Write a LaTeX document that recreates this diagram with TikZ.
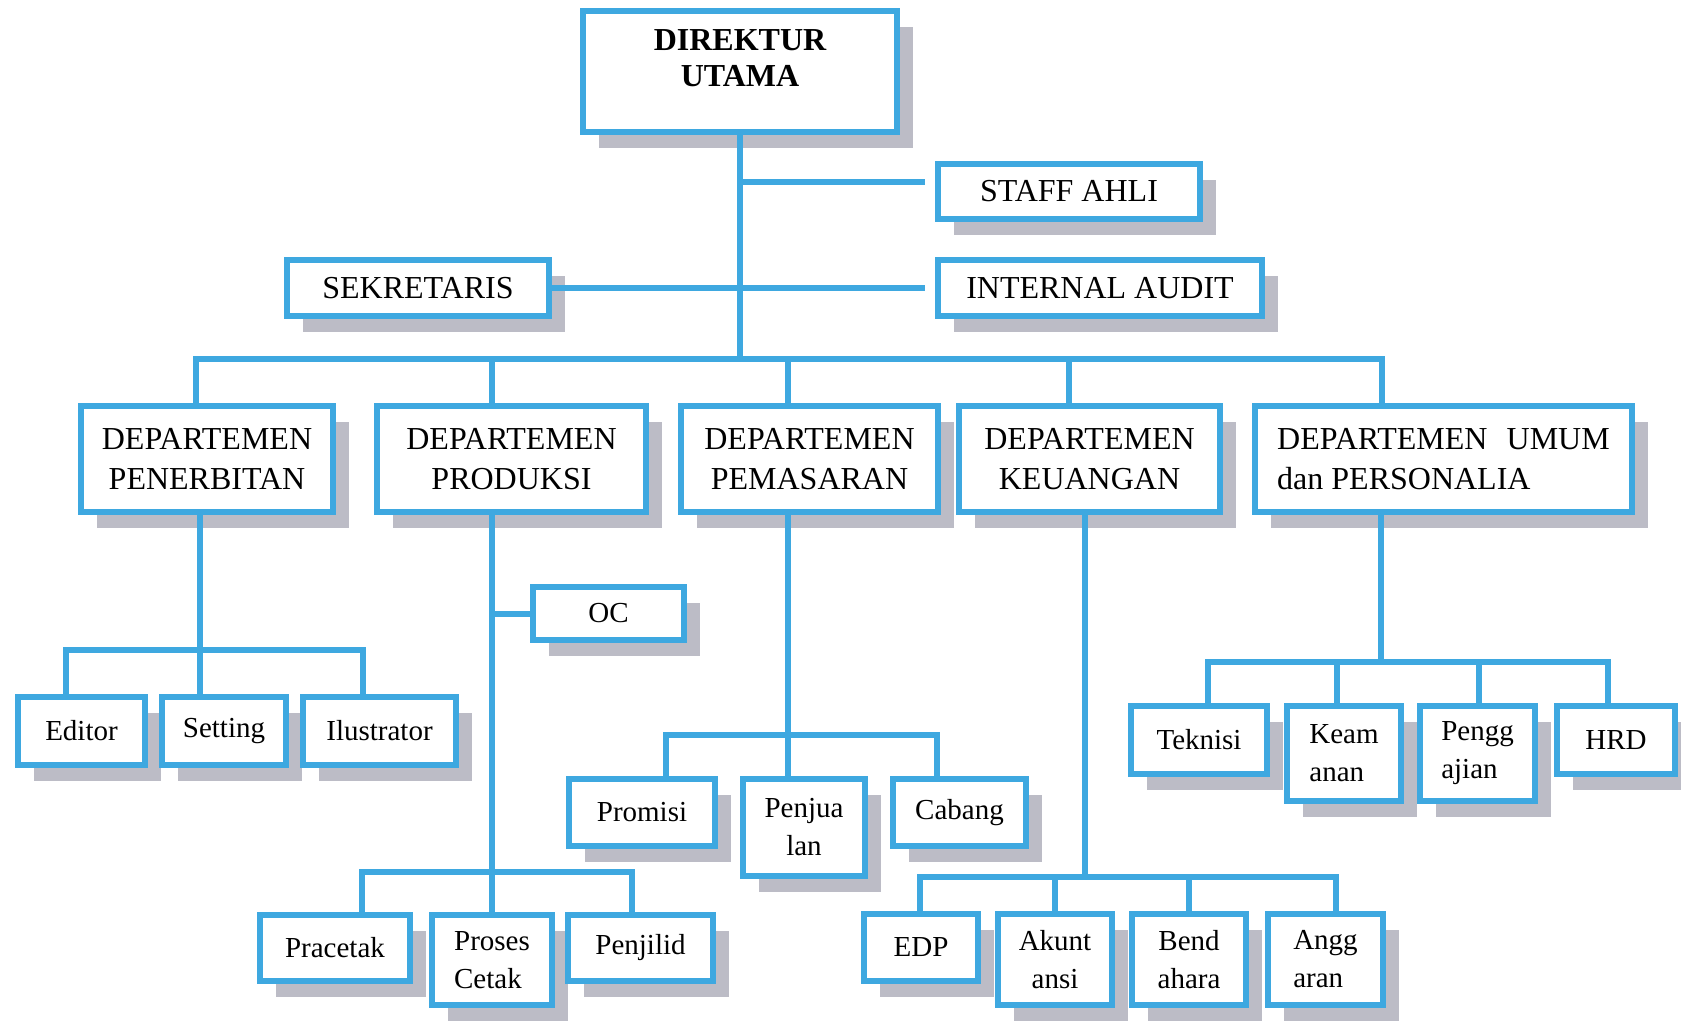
\documentclass[tikz,border=0pt]{standalone}
\usepackage{fontspec}
\setmainfont{Liberation Serif}
\usetikzlibrary{shadows}

\definecolor{orgblue}{RGB}{62,168,224}
\definecolor{orggray}{RGB}{188,188,198}

\tikzset{
  box/.style={draw=orgblue, line width=3pt, fill=white, inner sep=0pt, align=center,
    drop shadow={shadow xshift=8pt, shadow yshift=-8pt, fill=orggray, opacity=1}},
  dept/.style={box, font=\fontsize{16}{20}\selectfont},
  unit/.style={box, font=\fontsize{14.5}{19}\selectfont},
  link/.style={draw=orgblue, line width=3pt},
}

\begin{document}
\begin{tikzpicture}[x=0.5pt,y=-0.5pt]

% canvas in pixels of the scanned chart (1681 x 1023), y grows downward
\useasboundingbox (0,0) rectangle (1681,1023);

% --- Top level ---
\node[box, font=\fontsize{16}{18}\selectfont\bfseries, minimum width=157pt, minimum height=60.5pt]
  (direktur) at (740,71.5)
  {\raisebox{5pt}[\height][\depth]{\begin{tabular}{@{}c@{}}DIREKTUR\\UTAMA\end{tabular}}};
\node[dept, minimum width=131pt, minimum height=27.5pt] (staff) at (1069,191.5) {STAFF AHLI};
\node[dept, minimum width=131pt, minimum height=28pt] (sekretaris) at (418,288) {SEKRETARIS};
\node[dept, minimum width=162pt, minimum height=28pt] (audit) at (1100,288) {INTERNAL AUDIT};

% --- Departments ---
\node[dept, minimum width=126pt, minimum height=53pt] (penerbitan) at (207,459) {DEPARTEMEN\\PENERBITAN};
\node[dept, minimum width=134.5pt, minimum height=53pt] (produksi) at (511.5,459) {DEPARTEMEN\\PRODUKSI};
\node[dept, minimum width=128.5pt, minimum height=53pt] (pemasaran) at (809.5,459) {DEPARTEMEN\\PEMASARAN};
\node[dept, minimum width=130.5pt, minimum height=53pt] (keuangan) at (1089.5,459) {DEPARTEMEN\\KEUANGAN};
\node[dept, align=left, minimum width=188.5pt, minimum height=53pt] (umum) at (1443.5,459)
  {DEPARTEMEN\hspace{0.6em}UMUM\\dan PERSONALIA};

% --- Units: Penerbitan ---
\node[unit, minimum width=63.5pt, minimum height=34pt] (editor) at (81.5,731) {Editor};
\node[unit, minimum width=62pt, minimum height=34pt] (setting) at (224,731) {Setting};
\node[unit, minimum width=76.5pt, minimum height=34pt] (ilustrator) at (379.5,731) {Ilustrator};

% --- Units: Produksi ---
\node[unit, minimum width=75.5pt, minimum height=26.5pt] (qc) at (608.5,613.5) {OC};
\node[unit, minimum width=75pt, minimum height=33pt] (pracetak) at (335,948) {Pracetak};
\node[unit, align=left, minimum width=60pt, minimum height=45pt] (proses) at (492,960) {Proses\\Cetak};
\node[unit, minimum width=72.5pt, minimum height=33pt] (penjilid) at (640.5,948) {Penjilid};

% --- Units: Pemasaran ---
\node[unit, minimum width=73pt, minimum height=33.5pt] (promisi) at (642,812.5) {Promisi};
\node[unit, minimum width=61pt, minimum height=48.5pt] (penjualan) at (804,827.5) {Penjua\\lan};
\node[unit, minimum width=66.5pt, minimum height=33.5pt] (cabang) at (959.5,812.5) {Cabang};

% --- Units: Keuangan ---
\node[unit, minimum width=57pt, minimum height=33.5pt] (edp) at (921,947.5) {EDP};
\node[unit, minimum width=57pt, minimum height=45.5pt] (akuntansi) at (1055,959.5) {Akunt\\ansi};
\node[unit, minimum width=57pt, minimum height=45.5pt] (bendahara) at (1189,959.5) {Bend\\ahara};
\node[unit, align=left, minimum width=57.5pt, minimum height=45.5pt] (anggaran) at (1325.5,959.5) {Angg\\aran};

% --- Units: Umum dan Personalia ---
\node[unit, minimum width=68pt, minimum height=34pt] (teknisi) at (1199,740) {Teknisi};
\node[unit, align=left, minimum width=57pt, minimum height=47.5pt] (keamanan) at (1344,753.5) {Keam\\anan};
\node[unit, align=left, minimum width=57.5pt, minimum height=47.5pt] (penggajian) at (1477.5,753.5) {Pengg\\ajian};
\node[unit, minimum width=59pt, minimum height=34pt] (hrd) at (1616,740) {HRD};

% --- Connectors: top level ---
\coordinate (staffjoint) at (740,182);
\coordinate (topbus) at (740,359);
\draw[link] (direktur.south) -- (topbus);
\draw[link, shorten >=5pt] (staffjoint) -- (staffjoint -| staff.west);
\draw[link, shorten >=5pt] (sekretaris.east) -- (audit.west);
\draw[link] ([xshift=-5.5pt]penerbitan.north) |- ([xshift=-31pt]umum.north |- topbus)
  -- ([xshift=-31pt]umum.north);
\foreach \dept/\dx in {produksi/-10pt, pemasaran/-10.75pt, keuangan/-10.25pt}
  \draw[link] ([xshift=\dx]\dept.north) -- ([xshift=\dx]\dept.north |- topbus);

% --- Connectors: Penerbitan ---
\coordinate (penbus) at (200,650);
\draw[link] (penerbitan.south -| penbus) -- (setting.north -| penbus);
\draw[link] ([xshift=-7.75pt]editor.north) |- ([xshift=-8.25pt]ilustrator.north |- penbus)
  -- ([xshift=-8.25pt]ilustrator.north);

% --- Connectors: Produksi ---
\coordinate (probus) at (492,872);
\draw[link] (produksi.south -| probus) -- (proses.north);
\draw[link] (qc.west -| probus) -- (qc.west);
\draw[link] ([xshift=13.5pt]pracetak.north) |- ([xshift=-4.25pt]penjilid.north |- probus)
  -- ([xshift=-4.25pt]penjilid.north);

% --- Connectors: Pemasaran ---
\coordinate (pembus) at (788,735);
\draw[link] (pemasaran.south -| pembus) -- ([xshift=-8pt]penjualan.north);
\draw[link] ([xshift=12pt]promisi.north) |- ([xshift=-11.25pt]cabang.north |- pembus)
  -- ([xshift=-11.25pt]cabang.north);

% --- Connectors: Keuangan ---
\coordinate (keubus) at (1085,877);
\draw[link] (keuangan.south -| keubus) -- (keubus);
\draw[link] ([xshift=-0.5pt]edp.north) |- ([xshift=5.25pt]anggaran.north |- keubus)
  -- ([xshift=5.25pt]anggaran.north);
\foreach \n in {akuntansi, bendahara}
  \draw[link] (\n.north) -- (\n.north |- keubus);

% --- Connectors: Umum dan Personalia ---
\coordinate (umubus) at (1381,662);
\draw[link] (umum.south -| umubus) -- (umubus);
\draw[link] ([xshift=4.5pt]teknisi.north) |- ([xshift=-4pt]hrd.north |- umubus)
  -- ([xshift=-4pt]hrd.north);
\foreach \n/\dx in {keamanan/-3.5pt, penggajian/0.75pt}
  \draw[link] ([xshift=\dx]\n.north) -- ([xshift=\dx]\n.north |- umubus);

\end{tikzpicture}
\end{document}
